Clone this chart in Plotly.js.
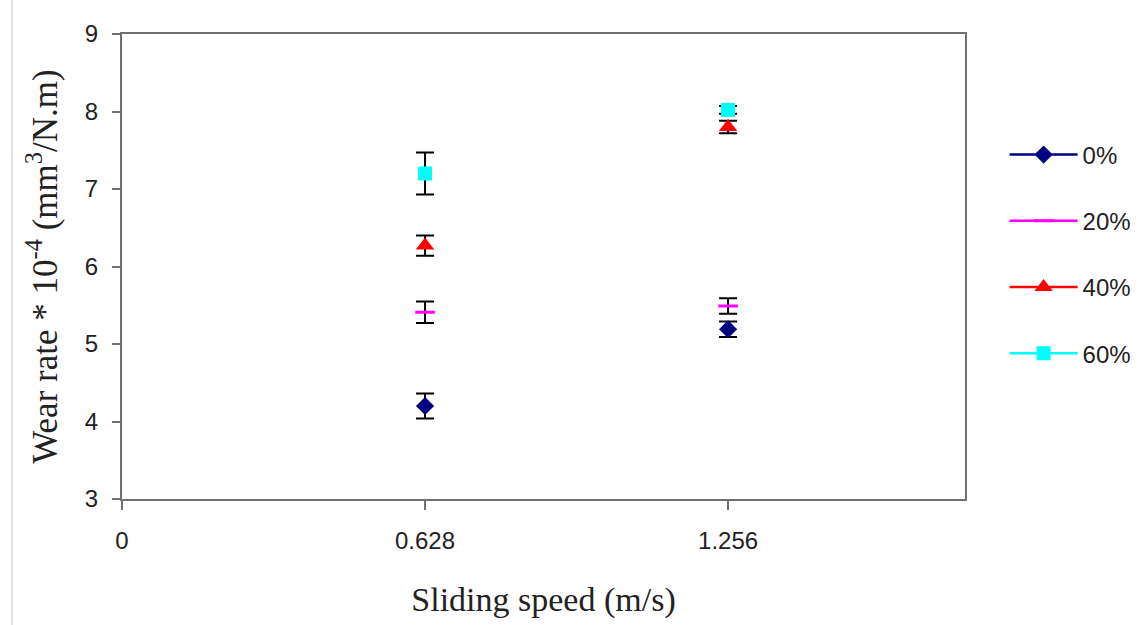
<!DOCTYPE html>
<html>
<head>
<meta charset="utf-8">
<script src="https://cdn.plot.ly/plotly-3.0.1.min.js"></script>
<style>html,body{margin:0;padding:0;background:#fff;}#chart{width:1148px;height:625px;}</style>
</head>
<body>
<div id="chart"></div>
<script>
// Data
var speeds = [0.628, 1.256];
var tickValues = [0, 0.628, 1.256];
var tickLabels = ["0", "0.628", "1.256"];
var seriesNames = ["0%", "20%", "40%", "60%"];
var wear0 = [4.20, 5.19];
var err0 = [0.16, 0.10];
var wear20 = [5.41, 5.49];
var err20 = [0.14, 0.10];
var wear40 = [6.27, 7.80];
var err40 = [0.13, 0.08];
var wear60 = [7.20, 8.02];
var err60 = [0.27, 0.05];

// isolate the points so no connecting line is drawn, while the legend still shows a line
function gap(a) { return [a[0], null, a[1]]; }

var styles = [
  {color: "#000080", symbol: "diamond", size: 14, lw: 0},
  {color: "#ff00ff", symbol: "line-ew", size: 14, lw: 3},
  {color: "#ff0000", symbol: "triangle-up", size: 16, lw: 0},
  {color: "#00ffff", symbol: "square", size: 14, lw: 0}
];
var ys = [wear0, wear20, wear40, wear60];
var es = [err0, err20, err40, err60];

var traces = ys.map(function (y, i) {
  var s = styles[i];
  return {
    type: "scatter",
    mode: "lines+markers",
    name: seriesNames[i],
    legendgroup: "g" + i,
    x: gap(speeds),
    y: gap(y),
    connectgaps: false,
    line: {color: s.color, width: 2.5},
    marker: {symbol: s.symbol, size: s.size, color: s.color,
             line: {color: s.color, width: s.lw}},
    error_y: {type: "data", array: gap(es[i]), visible: true,
              color: "#000000", thickness: 2, width: 9}
  };
});

var tickFont = {family: "Liberation Sans, Arial, sans-serif", size: 24, color: "#222"};

var layout = {
  width: 1148, height: 625,
  margin: {l: 122, r: 183, t: 34, b: 126, autoexpand: false},
  paper_bgcolor: "#ffffff", plot_bgcolor: "#ffffff",
  showlegend: true,
  legend: {
    x: 1.047, xanchor: "left", y: 0.527, yanchor: "middle",
    traceorder: "grouped", tracegroupgap: 32, itemwidth: 68,
    font: {family: "Liberation Sans, Arial, sans-serif", size: 24, color: "#222"},
    bgcolor: "rgba(0,0,0,0)"
  },
  xaxis: {
    range: [0, 1.747], tickmode: "array", tickvals: tickValues, ticktext: tickLabels,
    showgrid: false, zeroline: false, showline: true, mirror: true,
    linecolor: "#707070", linewidth: 2, ticks: "outside", ticklen: 9, tickwidth: 2,
    tickcolor: "#707070", ticklabelstandoff: 10,
    tickfont: tickFont,
    title: {text: "Sliding speed (m/s)", standoff: 34,
            font: {family: "Liberation Serif, Times New Roman, serif", size: 34, color: "#222"}}
  },
  yaxis: {
    range: [3, 9], dtick: 1, tick0: 3,
    showgrid: false, zeroline: false, showline: true, mirror: true,
    linecolor: "#707070", linewidth: 2, ticks: "outside", ticklen: 8, tickwidth: 2,
    tickcolor: "#707070", ticklabelstandoff: 9,
    tickfont: tickFont,
    title: {text: "Wear rate * 10<sup>-4</sup> (mm<sup>3</sup>/N.m)", standoff: 17,
            font: {family: "Liberation Serif, Times New Roman, serif", size: 35, color: "#222"}}
  },
  shapes: [
    {type: "line", xref: "paper", yref: "paper", x0: -0.1305, x1: -0.1305, y0: -0.271, y1: 1.073,
     line: {color: "#d9d9d9", width: 1.5}}
  ]
};

Plotly.newPlot("chart", traces, layout, {displayModeBar: false, staticPlot: true});
</script>
</body>
</html>
